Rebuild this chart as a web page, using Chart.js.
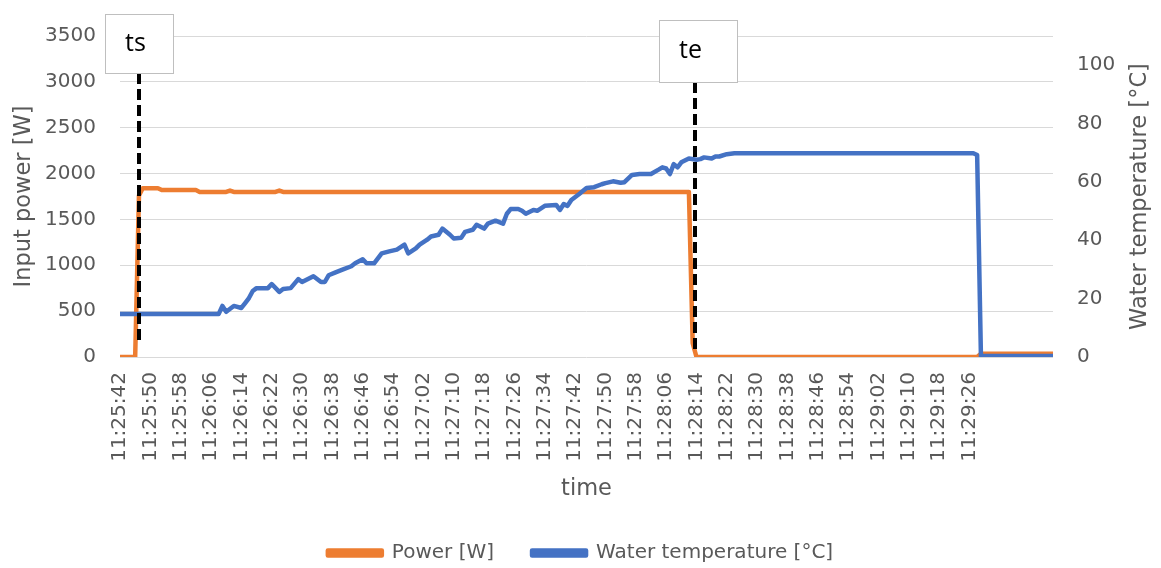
<!DOCTYPE html>
<html>
<head>
<meta charset="utf-8">
<script src="https://cdn.jsdelivr.net/npm/chart.js@4/dist/chart.umd.min.js"></script>
<style>
  html, body { margin: 0; padding: 0; background: #fff; }
  #wrap { width: 1161px; height: 568px; }
</style>
</head>
<body>
<div id="wrap"><canvas id="myChart" width="1161" height="568"></canvas></div>
<script>
// tick labels on the time axis, one every 8 seconds from 11:25:42
var timeLabels = ['11:25:42', '11:25:50', '11:25:58', '11:26:06', '11:26:14', '11:26:22', '11:26:30',
  '11:26:38', '11:26:46', '11:26:54', '11:27:02', '11:27:10', '11:27:18', '11:27:26', '11:27:34',
  '11:27:42', '11:27:50', '11:27:58', '11:28:06', '11:28:14', '11:28:22', '11:28:30', '11:28:38',
  '11:28:46', '11:28:54', '11:29:02', '11:29:10', '11:29:18', '11:29:26'];
var labelStep = 8;     // seconds between two time labels
var lastSecond = 246;  // last logged sample (s after 11:25:42)

var powerTicks = [0, 500, 1000, 1500, 2000, 2500, 3000, 3500];
var tempTicks = [0, 20, 40, 60, 80, 100];

// Power [W], seconds after 11:25:42
var powerTime = [0, 4, 5, 6, 10, 11, 20, 21, 28, 29, 30, 41, 42, 43, 150, 151, 152, 226, 227, 246];
var powerValue = [0, 0, 1760, 1840, 1840, 1820, 1820, 1800, 1800, 1815, 1800, 1800, 1815, 1800,
  1800, 150, 0, 0, 35, 35];

// Water temperature [°C]
var tempTime = [0, 26, 27, 28, 30, 32, 33, 34, 35, 36, 39, 40, 42, 43, 45, 47, 48, 51, 53, 54, 55,
  57, 59, 61, 62, 64, 65, 67, 69, 71, 73, 75, 76, 78, 79, 81, 82, 84, 85, 87, 88, 90, 91, 93, 94,
  96, 97, 99, 101, 102, 103, 105, 106, 107, 109, 110, 112, 115, 116, 117, 118, 119, 121, 123, 125,
  127, 128, 130, 132, 133, 135, 137, 140, 142, 143, 144, 145, 146, 147, 148, 150, 152, 153, 154,
  156, 157, 158, 160, 162, 225, 226, 227, 246];
var tempValue = [14.7, 14.7, 17.5, 15.5, 17.5, 16.8, 18.5, 20.2, 22.6, 23.6, 23.6, 25.0, 22.3,
  23.3, 23.6, 26.7, 25.7, 27.7, 25.7, 25.7, 28.0, 29.1, 30.1, 31.1, 32.1, 33.5, 32.1, 32.1, 35.5,
  36.2, 36.8, 38.5, 35.5, 37.2, 38.5, 40.2, 41.3, 41.9, 44.0, 41.9, 40.6, 40.9, 42.9, 43.6, 45.3,
  44.0, 45.7, 46.7, 45.7, 49.1, 50.7, 50.7, 50.1, 49.1, 50.4, 50.1, 51.8, 52.1, 50.4, 52.4, 51.8,
  53.8, 55.8, 57.9, 58.2, 59.2, 59.6, 60.2, 59.7, 59.9, 62.4, 62.7, 62.7, 64.2, 65.0, 64.6, 62.7,
  66.1, 65.0, 66.7, 68.0, 67.6, 67.8, 68.4, 68.0, 68.7, 68.7, 69.5, 69.8, 69.8, 69.2, 0.3, 0.3];

// start / end markers
var markerLabels = ['ts', 'te'];
var markerTimes = [4.9, 151.6];

function toPoints(times, values) {
  return times.map(function (t, i) { return { x: t, y: values[i] }; });
}

var grey = '#595959';
var fontFamily = '"DejaVu Sans", sans-serif';
var tickFont = { family: fontFamily, size: 20 };
var titleFont = { family: fontFamily, size: 22.5 };

// marker boxes, offsets relative to the line and the plot area
var markerStyle = [
  { dx: -34, top: -22, w: 68, h: 59, bottom: -12 },
  { dx: -36, top: -16, w: 78, h: 62, bottom: -4 }
];

var markerPlugin = {
  id: 'markers',
  afterDatasetsDraw: function (chart) {
    var ctx = chart.ctx;
    var area = chart.chartArea;
    var xs = chart.scales.x;
    markerLabels.forEach(function (label, i) {
      var px = Math.round(xs.getPixelForValue(markerTimes[i]));
      var s = markerStyle[i];
      var boxTop = area.top + s.top;
      ctx.save();
      // dashed line
      ctx.strokeStyle = '#000';
      ctx.lineWidth = 4;
      ctx.setLineDash([11, 5]);
      ctx.beginPath();
      ctx.moveTo(px, boxTop + s.h);
      ctx.lineTo(px, area.bottom + s.bottom);
      ctx.stroke();
      // label box
      ctx.setLineDash([]);
      ctx.fillStyle = '#fff';
      ctx.fillRect(px + s.dx + 0.5, boxTop + 0.5, s.w, s.h);
      ctx.strokeStyle = '#bfbfbf';
      ctx.lineWidth = 1;
      ctx.strokeRect(px + s.dx + 0.5, boxTop + 0.5, s.w, s.h);
      ctx.fillStyle = '#000';
      ctx.font = '25px "Open Sans", sans-serif';
      ctx.textBaseline = 'middle';
      ctx.textAlign = 'left';
      ctx.fillText(label, px + s.dx + 20, boxTop + s.h / 2);
      ctx.restore();
    });
  },
  // right axis title reads bottom to top, like the left one
  afterDraw: function (chart) {
    var ctx = chart.ctx;
    var area = chart.chartArea;
    var y1 = chart.scales.y1;
    ctx.save();
    ctx.translate(y1.right - 21, (area.top + area.bottom) / 2);
    ctx.rotate(-Math.PI / 2);
    ctx.fillStyle = grey;
    ctx.font = titleFont.size + 'px ' + fontFamily;
    ctx.textAlign = 'center';
    ctx.textBaseline = 'middle';
    ctx.fillText('Water temperature [°C]', 0, 0);
    ctx.restore();
  }
};

document.addEventListener('DOMContentLoaded', function () {
  var ctx = document.getElementById('myChart').getContext('2d');

  var myChart = new Chart(ctx, {
    type: 'line',
    data: {
      datasets: [{
        label: 'Power [W]',
        data: toPoints(powerTime, powerValue),
        borderColor: '#ED7D31',
        backgroundColor: '#ED7D31',
        borderWidth: 4.5,
        pointRadius: 0,
        tension: 0,
        borderJoinStyle: 'round',
        borderCapStyle: 'round',
        yAxisID: 'y',
        order: 1
      }, {
        label: 'Water temperature [°C]',
        data: toPoints(tempTime, tempValue),
        borderColor: '#4472C4',
        backgroundColor: '#4472C4',
        borderWidth: 4.5,
        pointRadius: 0,
        tension: 0,
        borderJoinStyle: 'round',
        borderCapStyle: 'round',
        yAxisID: 'y1',
        order: 0
      }]
    },
    options: {
      responsive: false,
      animation: false,
      layout: { padding: { top: 33, left: 0, right: 0, bottom: -5 } },
      plugins: {
        tooltip: { enabled: false },
        legend: {
          position: 'bottom',
          labels: {
            boxWidth: 54,
            boxHeight: 5,
            padding: 38,
            color: grey,
            font: tickFont,
            sort: function (a, b) { return a.datasetIndex - b.datasetIndex; }
          }
        }
      },
      scales: {
        x: {
          type: 'linear',
          min: 0,
          max: lastSecond,
          grid: { display: false, drawTicks: false },
          border: { display: false },
          afterBuildTicks: function (scale) {
            scale.ticks = timeLabels.map(function (l, i) { return { value: i * labelStep }; });
          },
          afterFit: function (scale) { scale.height = 148; },
          ticks: {
            autoSkip: false,
            minRotation: 90,
            maxRotation: 90,
            padding: 15,
            color: grey,
            font: tickFont,
            callback: function (v) { return timeLabels[Math.round(v / labelStep)]; }
          },
          title: {
            display: true,
            text: 'time',
            color: grey,
            font: titleFont,
            padding: { top: 0, bottom: 2 }
          }
        },
        y: {
          position: 'left',
          min: 0,
          max: 3500,
          afterBuildTicks: function (scale) {
            scale.ticks = powerTicks.map(function (v) { return { value: v }; });
          },
          afterFit: function (scale) { scale.width = 120; },
          grid: { color: '#d9d9d9', lineWidth: 1, drawTicks: false },
          border: { display: false },
          ticks: {
            padding: 24,
            color: grey,
            font: tickFont,
            callback: function (v) { return String(v); }
          },
          title: {
            display: true,
            text: 'Input power [W]',
            color: grey,
            font: titleFont,
            padding: { top: 11, bottom: 0 }
          }
        },
        y1: {
          position: 'right',
          min: 0,
          max: 110,
          afterBuildTicks: function (scale) {
            scale.ticks = tempTicks.map(function (v) { return { value: v }; });
          },
          afterFit: function (scale) { scale.width = 108; },
          grid: { display: false, drawTicks: false },
          border: { display: false },
          ticks: {
            padding: 24,
            color: grey,
            font: tickFont,
            callback: function (v) { return String(v); }
          }
        }
      }
    },
    plugins: [markerPlugin]
  });
});
</script>
</body>
</html>
